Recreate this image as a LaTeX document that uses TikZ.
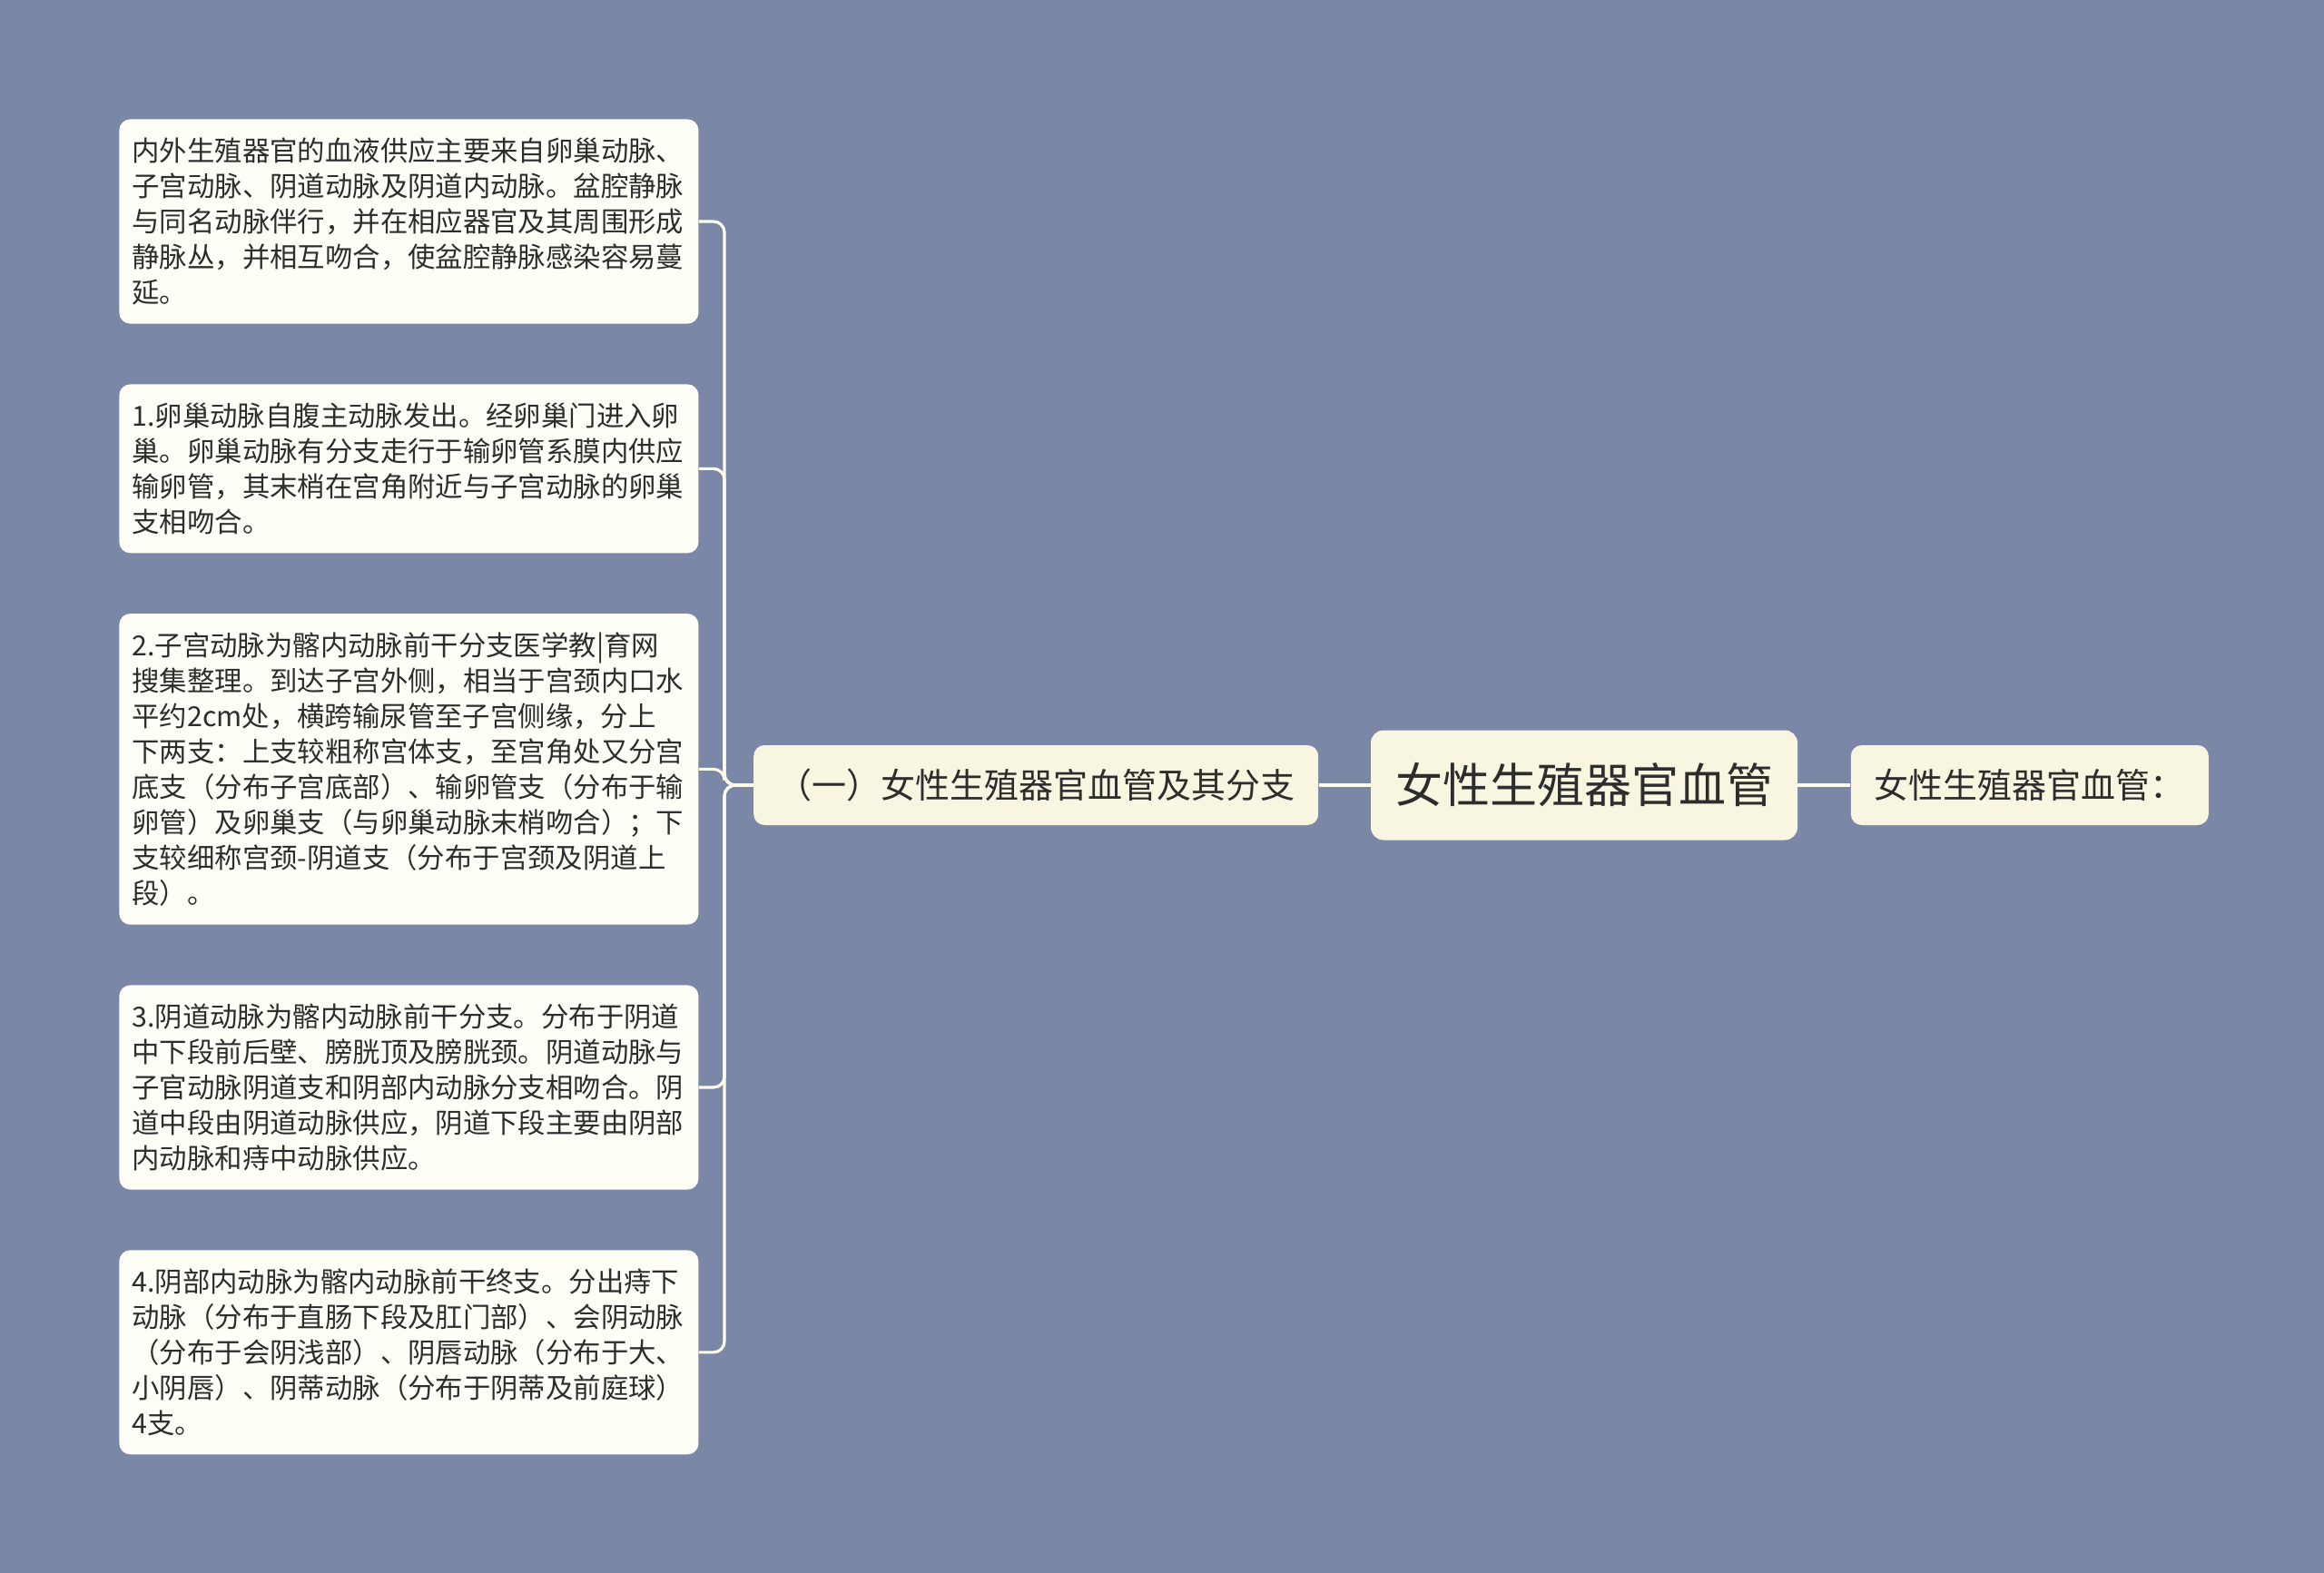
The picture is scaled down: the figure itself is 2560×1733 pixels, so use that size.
\documentclass[tikz,border=0pt]{standalone}
\usepackage{fontspec}
\usepackage{tikz}
\usetikzlibrary{positioning,backgrounds}
\newfontfamily\cjk{Noto Sans CJK SC}
\newcommand{\leaffont}{\cjk\fontsize{15.2}{19.5}\selectfont\exhyphenpenalty=10000\relax\hyphenpenalty=10000\relax}
\definecolor{bgblue}{RGB}{122, 135, 166}
\definecolor{paper}{RGB}{255, 254, 246}
\definecolor{cream}{RGB}{248, 245, 225}
\definecolor{ink}{RGB}{45, 45, 45}
\definecolor{wire}{RGB}{255, 253, 236}
\tikzstyle{leaf} = [rectangle, rounded corners=6pt, draw=none, fill=paper, text=ink, align=left, text width=305pt, inner xsep=7pt, inner ysep=10.2pt, font=\leaffont]
\tikzstyle{branch} = [rectangle, rounded corners=6pt, draw=none, fill=cream, text=ink, inner xsep=13pt, minimum height=44pt, font=\cjk\fontsize{19}{23}\selectfont]
\tikzstyle{root} = [rectangle, rounded corners=7pt, draw=none, fill=cream, text=ink, inner xsep=13.5pt, minimum height=60.5pt, font=\cjk\fontsize{26}{31}\selectfont]
\tikzstyle{tedge} = [draw=wire, line width=1.6pt, rounded corners=6pt]

\begin{document}
\begin{tikzpicture}[x=0.5pt, y=-0.5pt]

\fill[bgblue] (0,0) rectangle (2560,1733);
\useasboundingbox (0,0) rectangle (2560,1733);

% centre =============================
\node[root] (root) at (1745,865) {女性生殖器官血管};
\node[branch, left=28.5pt of root] (branch) {（一）女性生殖器官血管及其分支};
\node[branch, right=29pt of root] (summary) {女性生殖器官血管：};

% leaves =============================
\node[leaf, anchor=north west] (ven) at (131,131) {内外生殖器官的血液供应主要来自卵巢动脉、\\子宫动脉、阴道动脉及阴道内动脉。盆腔静脉\\与同名动脉伴行，并在相应器官及其周围形成\\静脉丛，并相互吻合，使盆腔静脉感染容易蔓\\延。};
\node[leaf, below=33pt of ven] (ovarian) {1.卵巢动脉自腹主动脉发出。经卵巢门进入卵\\巢。卵巢动脉有分支走行于输卵管系膜内供应\\输卵管，其末梢在宫角附近与子宫动脉的卵巢\\支相吻合。};
\node[leaf, below=33pt of ovarian] (uterine) {2.子宫动脉为髂内动脉前干分支医学教|育网\\搜集整理。到达子宫外侧，相当于宫颈内口水\\平约2cm处，横跨输尿管至子宫侧缘，分上\\下两支：上支较粗称宫体支，至宫角处又分宫\\底支（分布子宫底部）、输卵管支（分布于输\\卵管）及卵巢支（与卵巢动脉末梢吻合）；下\\支较细称\mbox{宫颈-阴道支}（分布于宫颈及阴道上\\段）。};
\node[leaf, below=33pt of uterine] (vaginal) {3.阴道动脉为髂内动脉前干分支。分布于阴道\\中下段前后壁、膀胱顶及膀胱颈。阴道动脉与\\子官动脉阴道支和阴部内动脉分支相吻合。阴\\道中段由阴道动脉供应，阴道下段主要由阴部\\内动脉和痔中动脉供应。};
\node[leaf, below=33pt of vaginal] (pudendal) {4.阴部内动脉为髂内动脉前干终支。分出痔下\\动脉（分布于直肠下段及肛门部）、会阴动脉\\（分布于会阴浅部）、阴唇动脉（分布于大、\\小阴唇）、阴蒂动脉（分布于阴蒂及前庭球）\\4支。};

% edges
\coordinate (trunk) at (798,865);
\path[tedge] (branch) -- (root);
\path[tedge] (root) -- (summary);
\path[tedge] (branch.west) -- (trunk) |- (ven.east);
\path[tedge] (branch.west) -- (trunk) |- (ovarian.east);
\path[tedge] (branch.west) -- (trunk) |- (uterine.east);
\path[tedge] (branch.west) -- (trunk) |- (vaginal.east);
\path[tedge] (branch.west) -- (trunk) |- (pudendal.east);

\end{tikzpicture}
\end{document}
